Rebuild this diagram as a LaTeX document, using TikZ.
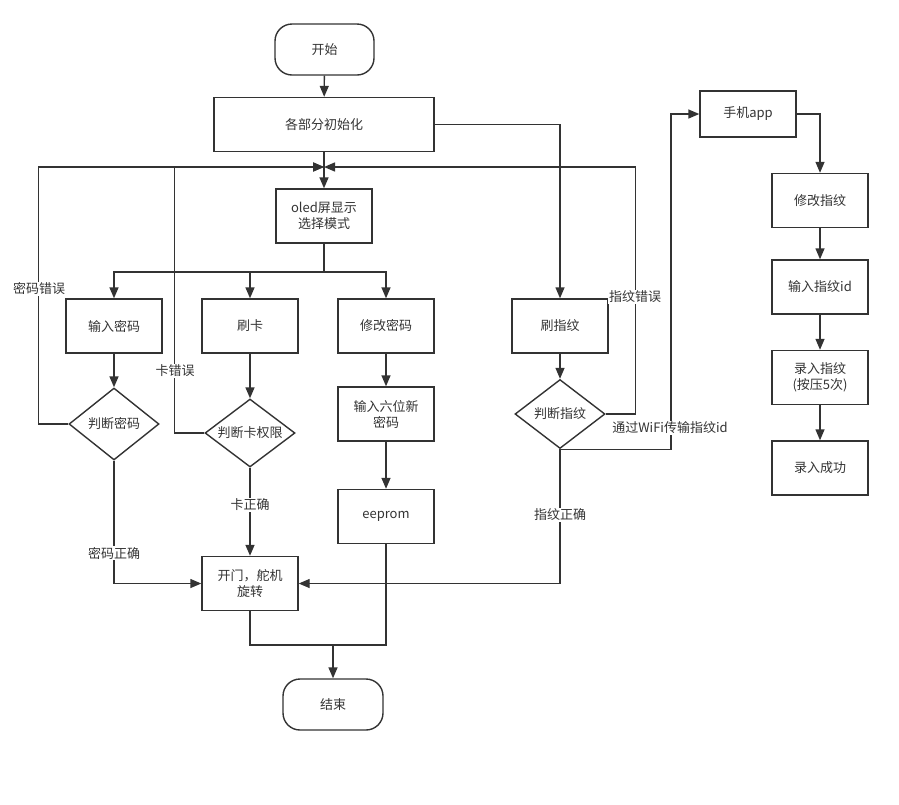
\documentclass[tikz,border=0pt]{standalone}
\usepackage{fontspec}
\setmainfont{Noto Sans CJK SC}
\usetikzlibrary{shapes.geometric,arrows.meta}
\definecolor{lncol}{HTML}{333333}
\definecolor{txtcol}{HTML}{333333}
\begin{document}
\begin{tikzpicture}[x=1pt,y=-1pt,
  font=\fontsize{13}{16}\selectfont, text=txtcol,
  box/.style={draw=lncol, line width=1.4pt, minimum width=96pt, minimum height=54pt, inner sep=2pt, align=center},
  term/.style={draw=lncol, line width=1.4pt, rounded corners=17pt, minimum width=99pt, minimum height=51pt},
  dec/.style={draw=lncol, line width=1.4pt, diamond, aspect=1.3, minimum width=90pt, inner sep=0pt},
  arr/.style={draw=lncol, line width=1.4pt, -{Triangle[length=11pt,width=9pt]}},
  plain/.style={draw=lncol, line width=1.4pt},
  lbl/.style={fill=white, inner sep=1pt}
]
\useasboundingbox (0,0) rectangle (899,804);

\node[term] (start) at (324.5,49.5) {开始};
\node[box, minimum width=220pt, minimum height=54pt] (init) at (324,124.5) {各部分初始化};
\node[box] (oled) at (324,216) {oled屏显示\\选择模式};
\node[box] (pin) at (114,326) {输入密码};
\node[box] (card) at (250,326) {刷卡};
\node[box] (chg) at (386,326) {修改密码};
\node[dec, minimum height=72pt] (pw) at (114,424) {判断密码};
\node[dec, minimum height=68pt] (ck) at (250,433) {判断卡权限};
\node[box] (six) at (386,414) {输入六位新\\密码};
\node[box] (eep) at (386,516.5) {eeprom};
\node[box] (door) at (250,583.5) {开门，舵机\\旋转};
\node[term, minimum width=100pt] (end) at (333,704.5) {结束};
\node[box] (fpin) at (560,326) {刷指纹};
\node[dec, minimum height=69pt] (fp) at (560,414) {判断指纹};
\node[box, minimum height=46pt] (app) at (748,114) {手机app};
\node[box] (xg) at (820,200.5) {修改指纹};
\node[box] (idn) at (820,287) {输入指纹id};
\node[box] (lr) at (820,377.5) {录入指纹\\(按压5次)};
\node[box] (ok) at (820,468) {录入成功};

\coordinate (J) at (324,167);
\coordinate (B) at (324,272);
\coordinate (M) at (333,645);

% main flow
\draw[arr] (start) -- (init);
\draw[arr] (init) -- (oled);
\draw[plain] (oled) -- (B);
\draw[arr] (B) -| (pin.north);
\draw[arr] (B) -| (card.north);
\draw[arr] (B) -| (chg.north);
\draw[arr] (pin) -- (pw);
\draw[arr] (card) -- (ck);
\draw[arr] (chg) -- (six);
\draw[arr] (six) -- (eep);
\draw[arr] (init.east) -| (fpin.north);
\draw[arr] (fpin) -- (fp);

% error loops
\draw[arr] (pw.west) -- ++(-30,0) |- (J);
\draw[arr] (ck.west) -- ++(-30,0) |- (J);
\draw[arr] (fp.east) -- ++(30,0) |- (J);

% success paths
\draw[arr] (pw.south) |- (door.west);
\draw[arr] (ck.south) -- (door.north);
\draw[arr] (fp.south) |- (door.east);

% end merge
\draw[plain] (door.south) -- (door.south |- M) -- (eep.south |- M) -- (eep.south);
\draw[arr] (M) -- (end.north);

% wifi / app branch
\draw[arr] (fp.south) -- ++(111,0) |- (app.west);
\draw[arr] (app.east) -| (xg.north);
\draw[arr] (xg) -- (idn);
\draw[arr] (idn) -- (lr);
\draw[arr] (lr) -- (ok);

% labels
\node[lbl] (l1) at (39,289) {密码错误};
\node[lbl] (l2) at (175,371) {卡错误};
\node[lbl] (l3) at (635,297) {指纹错误};
\node[lbl] (l4) at (114,553) {密码正确};
\node[lbl] (l5) at (250,505) {卡正确};
\node[lbl] (l6) at (560,515) {指纹正确};
\node[lbl] (l7) at (670,428) {通过WiFi传输指纹id};
\end{tikzpicture}
\end{document}
